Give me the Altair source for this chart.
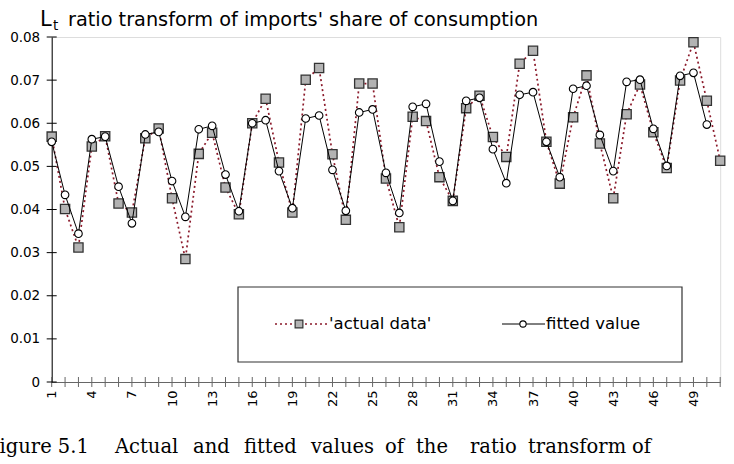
import altair as alt
import pandas as pd

# Ratio transform L_t of imports' share of consumption, periods 1..51
periods = list(range(1, 52))
actual = [0.0569, 0.0401, 0.0312, 0.0546, 0.0570, 0.0414, 0.0393, 0.0565, 0.0588, 0.0426,
          0.0285, 0.0529, 0.0578, 0.0451, 0.0389, 0.0600, 0.0657, 0.0509, 0.0393, 0.0701,
          0.0728, 0.0528, 0.0376, 0.0692, 0.0692, 0.0472, 0.0359, 0.0615, 0.0605, 0.0475,
          0.0420, 0.0635, 0.0664, 0.0568, 0.0522, 0.0738, 0.0768, 0.0557, 0.0460, 0.0614,
          0.0711, 0.0553, 0.0426, 0.0621, 0.0690, 0.0579, 0.0496, 0.0699, 0.0788, 0.0652,
          0.0513]
fitted = [0.0557, 0.0434, 0.0344, 0.0563, 0.0569, 0.0453, 0.0368, 0.0574, 0.0580, 0.0466,
          0.0383, 0.0586, 0.0594, 0.0481, 0.0396, 0.0600, 0.0607, 0.0489, 0.0403, 0.0611,
          0.0618, 0.0492, 0.0397, 0.0625, 0.0632, 0.0485, 0.0392, 0.0638, 0.0645, 0.0511,
          0.0420, 0.0652, 0.0659, 0.0540, 0.0461, 0.0666, 0.0672, 0.0557, 0.0475, 0.0680,
          0.0687, 0.0573, 0.0489, 0.0696, 0.0701, 0.0587, 0.0501, 0.0710, 0.0717, 0.0597]
y_ticks = [0, 0.01, 0.02, 0.03, 0.04, 0.05, 0.06, 0.07, 0.08]
series_names = ["'actual data'", "fitted value"]
title_main = "ratio transform of imports' share of consumption"
caption_words = ["Figure 5.1", "Actual", "and", "fitted", "values", "of", "the",
                 "ratio", "transform", "of"]

W, H = 668.5, 345
OX, OY = 51.7, 37  # plot origin inside the page

actual_df = pd.DataFrame({"t": periods, "value": actual})
fitted_df = pd.DataFrame({"t": periods[:len(fitted)], "value": fitted})

x_enc = alt.X(
    "t:Q",
    scale=alt.Scale(domain=[1, 51], nice=False, zero=False),
    axis=alt.Axis(
        values=periods,
        labelExpr="(datum.value - 1) % 3 == 0 ? datum.value : ''",
        labelAngle=270, labelFontSize=13, labelColor="black", labelPadding=8,
        ticks=False, domainColor="#666666", grid=False, title=None,
    ),
)
y_enc = alt.Y(
    "value:Q",
    scale=alt.Scale(domain=[0, 0.08], nice=False),
    axis=alt.Axis(
        values=y_ticks,
        labelExpr="datum.value == 0 ? '0' : format(datum.value, '.2f')",
        labelFontSize=13.5, labelColor="black", labelPadding=12,
        ticks=False, domainColor="black", grid=False, title=None,
    ),
)

actual_line = alt.Chart(actual_df).mark_line(
    color="#8b1a2b", strokeDash=[2, 3], strokeWidth=1.7
).encode(x=x_enc, y=y_enc)
actual_pts = alt.Chart(actual_df).mark_point(
    shape="square", filled=True, fill="#b3b3b3", stroke="#333333",
    strokeWidth=1.3, size=85, opacity=1
).encode(x=x_enc, y=y_enc)
fitted_line = alt.Chart(fitted_df).mark_line(
    color="black", strokeWidth=1
).encode(x=x_enc, y=y_enc)
fitted_pts = alt.Chart(fitted_df).mark_point(
    shape="circle", filled=True, fill="white", stroke="black",
    strokeWidth=1.1, size=58, opacity=1
).encode(x=x_enc, y=y_enc)

# crossing tick marks on both axes
x_tick_df = pd.DataFrame({"t": periods})
x_ticks = alt.Chart(x_tick_df).mark_rule(color="#666666", strokeWidth=1).encode(
    x=x_enc, y=alt.value(H - 5), y2=alt.value(H + 5)
)
y_tick_df = pd.DataFrame({"value": y_ticks})
y_tick_marks = alt.Chart(y_tick_df).mark_rule(color="black", strokeWidth=1).encode(
    y=y_enc, x=alt.value(-5), x2=alt.value(5)
)


def label(text, x, y, size, font="DejaVu Sans", align="left", baseline="alphabetic"):
    return alt.Chart(pd.DataFrame({"s": [text]})).mark_text(
        font=font, fontSize=size, align=align, baseline=baseline, color="black"
    ).encode(text="s:N", x=alt.value(x - OX), y=alt.value(y - OY))


# title: L with subscript t
title_layers = [
    label("L", 40, 26, 21),
    label("t", 53, 30, 13.5),
    label(title_main, 68, 26, 19.3),
]

# legend box
legend_box = alt.Chart(pd.DataFrame({"s": [0]})).mark_rect(
    fill="white", stroke="#333333", strokeWidth=1.2
).encode(
    x=alt.value(238 - OX), x2=alt.value(682 - OX),
    y=alt.value(287 - OY), y2=alt.value(362 - OY),
)
ly = 324 - OY
leg_actual_line = alt.Chart(pd.DataFrame({"s": [0]})).mark_rule(
    color="#8b1a2b", strokeDash=[2, 3], strokeWidth=1.7
).encode(x=alt.value(275 - OX), x2=alt.value(327 - OX), y=alt.value(ly))
leg_actual_pt = alt.Chart(pd.DataFrame({"s": [0]})).mark_point(
    shape="square", filled=True, fill="#b3b3b3", stroke="#333333",
    strokeWidth=1.2, size=60, opacity=1
).encode(x=alt.value(299 - OX), y=alt.value(ly))
leg_fit_line = alt.Chart(pd.DataFrame({"s": [0]})).mark_rule(
    color="black", strokeWidth=1
).encode(x=alt.value(502 - OX), x2=alt.value(545 - OX), y=alt.value(ly))
leg_fit_pt = alt.Chart(pd.DataFrame({"s": [0]})).mark_point(
    shape="circle", filled=True, fill="white", stroke="black",
    strokeWidth=1.1, size=40, opacity=1
).encode(x=alt.value(523 - OX), y=alt.value(ly))
legend_layers = [
    legend_box, leg_actual_line, leg_actual_pt, leg_fit_line, leg_fit_pt,
    label(series_names[0], 329, ly + OY, 16.5, baseline="middle"),
    label(series_names[1], 546, ly + OY, 16.5, baseline="middle"),
]

# figure caption below the chart
caption_x = [-14, 115, 193, 244, 311, 385, 416, 470, 528, 632]
caption_layers = [
    label(w, cx, 453, 19.5, font="DejaVu Serif")
    for w, cx in zip(caption_words, caption_x)
]

chart = alt.layer(
    x_ticks, y_tick_marks,
    actual_line, actual_pts, fitted_line, fitted_pts,
    *legend_layers, *title_layers, *caption_layers,
).properties(
    width=W, height=H,
    autosize="none",
    padding={"left": OX, "top": OY, "right": 734 - OX - W, "bottom": 464 - OY - H},
).configure_view(stroke=None).configure(font="DejaVu Sans")

chart.save("out.html", embed_options={"renderer": "svg", "actions": False})
